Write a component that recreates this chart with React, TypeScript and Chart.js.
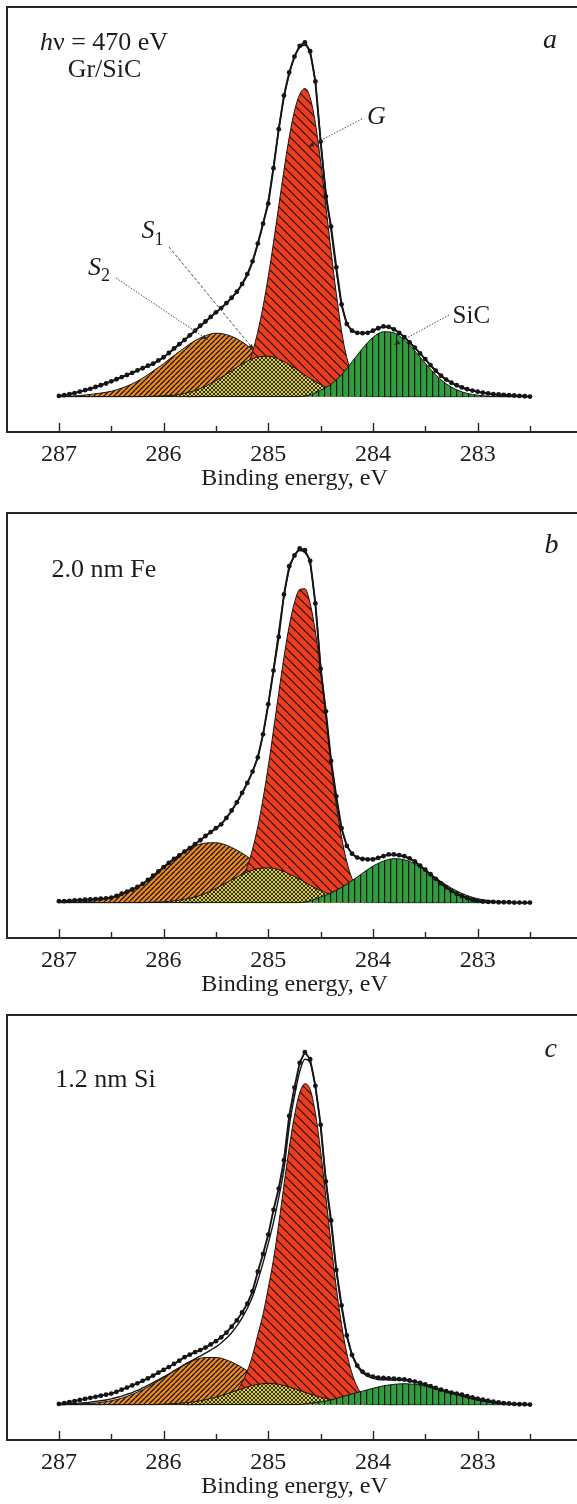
import React, { useEffect, useRef } from "react";
import { Chart, registerables } from "chart.js";

Chart.register(...registerables);

// ---------- energies (eV) ----------
const ENERGY_DATA = [
  287.0, 286.95, 286.9, 286.85, 286.8, 286.75, 286.7, 286.65, 286.6, 286.55,
  286.5, 286.45, 286.4, 286.35, 286.3, 286.25, 286.2, 286.15, 286.1, 286.05,
  286.0, 285.95, 285.9, 285.85, 285.8, 285.75, 285.7, 285.65, 285.6, 285.55,
  285.5, 285.45, 285.4, 285.35, 285.3, 285.25, 285.2, 285.15, 285.1, 285.05,
  285.0, 284.95, 284.9, 284.85, 284.8, 284.75, 284.7, 284.65, 284.6, 284.55,
  284.5, 284.45, 284.4, 284.35, 284.3, 284.25, 284.2, 284.15, 284.1, 284.05,
  284.0, 283.95, 283.9, 283.85, 283.8, 283.75, 283.7, 283.65, 283.6, 283.55,
  283.5, 283.45, 283.4, 283.35, 283.3, 283.25, 283.2, 283.15, 283.1, 283.05,
  283.0, 282.95, 282.9, 282.85, 282.8, 282.75, 282.7, 282.65, 282.6, 282.55,
  282.5,
];
const ENERGY_COMP = [
  287.0, 286.9, 286.8, 286.7, 286.6, 286.5, 286.4, 286.3, 286.2, 286.1,
  286.0, 285.9, 285.8, 285.7, 285.6, 285.5, 285.4, 285.3, 285.2, 285.1,
  285.0, 284.9, 284.8, 284.7, 284.6, 284.5, 284.4, 284.3, 284.2, 284.1,
  284.0, 283.9, 283.8, 283.7, 283.6, 283.5, 283.4, 283.3, 283.2, 283.1,
  283.0, 282.9, 282.8, 282.7, 282.6, 282.5,
];
const ENERGY_G = [
  285.8, 285.75, 285.7, 285.65, 285.6, 285.55, 285.5, 285.45, 285.4, 285.35,
  285.3, 285.25, 285.2, 285.15, 285.1, 285.05, 285.0, 284.95, 284.9, 284.85,
  284.8, 284.75, 284.7, 284.65, 284.6, 284.55, 284.5, 284.45, 284.4, 284.35,
  284.3, 284.25, 284.2, 284.15, 284.1, 284.05, 284.0, 283.95, 283.9, 283.85,
  283.8,
];

const MAJOR_TICKS = [287, 286, 285, 284, 283];
const MINOR_TICKS = [286.5, 285.5, 284.5, 283.5, 282.5];
const TICK_LABELS = ["287", "286", "285", "284", "283"];
const X_TITLE = "Binding energy, eV";

// ---------- panel a : hν = 470 eV, Gr/SiC ----------
const DATA_A = [
  0.2, 0.4, 0.7, 1.0, 1.4, 1.8, 2.2, 2.7, 3.2, 3.7,
  4.3, 4.9, 5.5, 6.1, 6.7, 7.4, 8.0, 8.7, 9.3, 10.2,
  11.1, 12.3, 13.6, 14.8, 16.0, 17.3, 18.6, 20.0, 21.2, 22.5,
  23.8, 25.0, 26.4, 27.9, 29.6, 31.8, 34.6, 38.2, 43.2, 48.8,
  54.5, 64.5, 75.5, 85.0, 91.5, 96.0, 99.0, 100.0, 97.5, 89.0,
  72.0, 56.5, 48.0, 36.5, 26.0, 20.5, 18.6, 18.0, 17.9, 18.0,
  18.6, 19.3, 19.8, 19.7, 19.0, 18.0, 16.8, 15.3, 13.8, 12.2,
  10.6, 8.9, 7.3, 5.9, 4.8, 3.9, 3.2, 2.6, 2.1, 1.7,
  1.4, 1.1, 0.9, 0.7, 0.6, 0.5, 0.4, 0.3, 0.2, 0.1,
  0.0,
];
const FIT_A = [
  0.1, 0.4, 0.7, 1.0, 1.4, 1.8, 2.2, 2.7, 3.2, 3.7,
  4.2, 4.8, 5.4, 6.0, 6.7, 7.3, 8.0, 8.6, 9.3, 10.1,
  11.0, 12.2, 13.4, 14.7, 16.0, 17.2, 18.5, 19.8, 21.1, 22.4,
  23.7, 25.0, 26.3, 27.8, 29.5, 31.6, 34.3, 38.0, 43.0, 48.8,
  55.5, 65.0, 75.5, 84.5, 91.0, 96.0, 98.6, 99.2, 96.8, 88.5,
  72.5, 58.0, 47.0, 35.5, 26.0, 20.8, 18.6, 18.0, 17.8, 18.0,
  18.5, 19.2, 19.6, 19.6, 19.0, 18.0, 16.8, 15.4, 13.8, 12.2,
  10.5, 8.8, 7.3, 5.9, 4.8, 3.9, 3.1, 2.5, 2.0, 1.6,
  1.3, 1.0, 0.8, 0.6, 0.5, 0.4, 0.3, 0.2, 0.1, 0.1,
  0.0,
];
const S2_A = [
  0, 0.1, 0.3, 0.6, 1.0, 1.5, 2.4, 3.6, 5.2, 7.2,
  9.3, 11.6, 13.8, 15.8, 17.2, 17.9, 17.5, 16.3, 14.4, 12.0,
  9.5, 7.1, 5.0, 3.3, 2.1, 1.2, 0.7, 0.3, 0.1, 0,
  0, 0, 0, 0, 0, 0, 0, 0, 0, 0,
  0, 0, 0, 0, 0, 0,
];
const S1_A = [
  0, 0, 0, 0, 0, 0, 0, 0, 0, 0.1,
  0.2, 0.4, 0.9, 1.7, 2.9, 4.5, 6.3, 8.3, 10.0, 11.2,
  11.4, 10.6, 9.0, 7.1, 5.1, 3.4, 2.0, 1.1, 0.5, 0.2,
  0.1, 0, 0, 0, 0, 0, 0, 0, 0, 0,
  0, 0, 0, 0, 0, 0,
];
const G_A = [
  0, 0, 0, 0, 0.1, 0.2, 0.3, 0.6, 1.1, 2.0,
  3.4, 5.4, 8.5, 12.7, 18.3, 25.4, 33.9, 43.5, 53.8, 63.9,
  73.2, 80.6, 85.3, 87.0, 84.4, 77.2, 66.4, 53.8, 41.0, 29.0,
  18.5, 11.0, 6.5, 3.6, 1.9, 0.9, 0.4, 0.2, 0.1, 0,
  0,
];
const SIC_A = [
  0, 0, 0, 0, 0, 0, 0, 0, 0, 0,
  0, 0, 0, 0, 0, 0, 0, 0, 0, 0,
  0, 0, 0, 0, 0.5, 1.8, 3.5, 6.2, 9.8, 13.6,
  16.7, 18.3, 18.0, 16.0, 12.9, 9.4, 6.1, 3.6, 1.9, 0.9,
  0.4, 0.1, 0, 0, 0, 0,
];

// ---------- panel b : 2.0 nm Fe ----------
const DATA_B = [
  0.4, 0.4, 0.5, 0.6, 0.7, 0.8, 0.9, 1.0, 1.1, 1.2,
  1.4, 1.9, 2.5, 3.1, 3.7, 4.4, 5.3, 6.4, 7.6, 8.8,
  10.0, 11.2, 12.3, 13.3, 14.4, 15.4, 16.5, 17.6, 18.8, 19.9,
  21.0, 22.1, 23.9, 26.0, 28.3, 31.0, 33.8, 37.0, 41.0, 47.5,
  56.0, 65.5, 75.0, 87.0, 95.0, 98.0, 100.0, 99.5, 96.5, 84.5,
  66.0, 54.0, 40.0, 30.0, 21.0, 16.0, 13.8, 12.7, 12.3, 12.2,
  12.2, 12.6, 13.1, 13.6, 13.6, 13.4, 13.1, 12.5, 11.6, 10.4,
  9.3, 8.0, 6.7, 5.4, 4.3, 3.3, 2.5, 1.8, 1.3, 0.8,
  0.5, 0.3, 0.2, 0.2, 0.1, 0.1, 0.1, 0.0, 0.0, 0.0,
  0.0,
];
const FIT_B = [
  0.3, 0.4, 0.5, 0.6, 0.7, 0.8, 0.9, 1.0, 1.1, 1.2,
  1.5, 1.9, 2.5, 3.1, 3.7, 4.4, 5.3, 6.3, 7.5, 8.7,
  9.9, 11.1, 12.2, 13.3, 14.3, 15.4, 16.5, 17.6, 18.7, 19.8,
  20.9, 22.2, 23.9, 25.9, 28.2, 30.8, 33.7, 37.0, 41.2, 47.5,
  56.0, 66.0, 76.5, 86.5, 94.0, 98.0, 99.4, 98.8, 95.5, 84.0,
  67.0, 53.5, 40.0, 29.5, 21.0, 16.2, 13.8, 12.7, 12.3, 12.2,
  12.3, 12.6, 13.1, 13.4, 13.5, 13.3, 12.9, 12.3, 11.5, 10.4,
  9.2, 7.9, 6.6, 5.4, 4.3, 3.3, 2.5, 1.8, 1.3, 0.9,
  0.6, 0.4, 0.3, 0.2, 0.1, 0.1, 0.1, 0.0, 0.0, 0.0,
  0.0,
];
const S2_B = [
  0, 0.1, 0.2, 0.4, 0.8, 1.4, 2.3, 3.6, 5.3, 7.4,
  10.2, 12.5, 14.4, 16.0, 16.8, 16.9, 16.2, 14.8, 13.0, 10.8,
  8.3, 6.0, 4.1, 2.6, 1.6, 0.9, 0.5, 0.2, 0.1, 0,
  0, 0, 0, 0, 0, 0, 0, 0, 0, 0,
  0, 0, 0, 0, 0, 0,
];
const S1_B = [
  0, 0, 0, 0, 0, 0, 0, 0, 0, 0.1,
  0.2, 0.5, 0.9, 1.6, 2.6, 4.0, 5.6, 7.2, 8.6, 9.6,
  9.8, 9.3, 8.1, 6.6, 4.9, 3.4, 2.2, 1.3, 0.7, 0.4,
  0.2, 0.1, 0, 0, 0, 0, 0, 0, 0, 0,
  0, 0, 0, 0, 0, 0,
];
const G_B = [
  0, 0, 0, 0, 0.15, 0.3, 0.5, 0.9, 1.5, 2.5,
  4.2, 6.7, 10.2, 15.1, 21.4, 29.3, 38.5, 48.7, 59.2, 69.3,
  78.1, 84.7, 88.4, 88.6, 84.5, 76.4, 65.4, 53.1, 39.0, 27.5,
  18.5, 11.5, 6.8, 3.8, 2.0, 1.0, 0.5, 0.2, 0.1, 0,
  0,
];
const SIC_B = [
  0, 0, 0, 0, 0, 0, 0, 0, 0, 0,
  0, 0, 0, 0, 0, 0, 0, 0, 0, 0,
  0, 0, 0, 0, 0.5, 1.6, 2.7, 4.3, 6.2, 8.3,
  10.3, 11.7, 12.4, 12.1, 10.9, 9.1, 7.0, 5.0, 3.3, 2.0,
  1.1, 0.6, 0.3, 0.1, 0, 0,
];

// ---------- panel c : 1.2 nm Si ----------
const DATA_C = [
  0.2, 0.4, 0.7, 1.0, 1.3, 1.6, 1.9, 2.2, 2.5, 2.8,
  3.1, 3.6, 4.2, 4.8, 5.4, 6.0, 6.7, 7.4, 8.2, 9.0,
  9.8, 10.6, 11.5, 12.4, 13.4, 14.1, 14.8, 15.4, 16.1, 17.0,
  17.9, 19.0, 20.3, 22.0, 23.8, 26.0, 28.5, 32.0, 37.5, 42.5,
  48.0, 55.0, 61.0, 69.0, 81.5, 89.5, 96.5, 99.5, 97.5, 90.0,
  79.0, 63.0, 52.0, 38.0, 28.0, 19.5, 14.0, 11.0, 9.3, 8.4,
  7.9, 7.6, 7.5, 7.4, 7.3, 7.2, 7.1, 6.8, 6.5, 6.1,
  5.7, 5.2, 4.7, 4.2, 3.8, 3.4, 3.1, 2.8, 2.4, 2.0,
  1.7, 1.4, 1.1, 0.8, 0.6, 0.4, 0.3, 0.2, 0.1, 0.1,
  0.0,
];
const FIT_C = [
  0.0, 0.1, 0.2, 0.3, 0.4, 0.5, 0.7, 0.9, 1.1, 1.3,
  1.6, 2.0, 2.4, 2.9, 3.4, 4.0, 4.7, 5.4, 6.2, 7.0,
  7.8, 8.6, 9.5, 10.4, 11.3, 12.1, 12.9, 13.7, 14.5, 15.4,
  16.3, 17.4, 18.7, 20.3, 22.2, 24.5, 27.2, 30.5, 35.0, 40.0,
  45.5, 51.5, 58.5, 66.5, 78.5, 87.0, 94.0, 97.5, 96.5, 89.5,
  78.5, 63.5, 51.0, 38.0, 27.5, 19.5, 14.0, 10.8, 9.0, 8.0,
  7.4, 7.1, 7.0, 7.0, 6.9, 6.9, 6.8, 6.6, 6.3, 6.0,
  5.6, 5.1, 4.6, 4.1, 3.6, 3.2, 2.8, 2.4, 2.0, 1.7,
  1.3, 1.0, 0.8, 0.6, 0.4, 0.3, 0.2, 0.1, 0.1, 0.0,
  0.0,
];
const S2_C = [
  0, 0.1, 0.2, 0.3, 0.6, 1.1, 1.8, 2.9, 4.2, 5.8,
  7.6, 9.5, 11.3, 12.6, 13.3, 13.3, 12.6, 11.3, 9.5, 7.6,
  5.8, 4.2, 2.9, 1.8, 1.1, 0.6, 0.3, 0.2, 0.1, 0,
  0, 0, 0, 0, 0, 0, 0, 0, 0, 0,
  0, 0, 0, 0, 0, 0,
];
const S1_C = [
  0, 0, 0, 0, 0, 0, 0, 0, 0, 0,
  0.1, 0.3, 0.5, 0.8, 1.4, 2.1, 3.0, 4.0, 5.0, 5.7,
  6.0, 5.7, 5.0, 4.0, 3.0, 2.1, 1.4, 0.8, 0.5, 0.3,
  0.1, 0, 0, 0, 0, 0, 0, 0, 0, 0,
  0, 0, 0, 0, 0, 0,
];
const G_C = [
  0, 0, 0, 0, 0.1, 0.2, 0.4, 0.8, 1.4, 2.4,
  3.9, 6.2, 9.5, 13.9, 19.7, 25.5, 33.0, 41.0, 51.0, 62.0,
  72.5, 81.5, 88.0, 90.6, 89.0, 82.3, 71.6, 58.7, 45.4, 33.0,
  22.6, 14.5, 8.8, 5.0, 2.7, 1.4, 0.6, 0.3, 0.1, 0,
  0,
];
const SIC_C = [
  0, 0, 0, 0, 0, 0, 0, 0, 0, 0,
  0, 0, 0, 0, 0, 0, 0, 0, 0, 0,
  0, 0, 0, 0, 0.4, 0.8, 1.3, 2.2, 3.0, 3.8,
  4.6, 5.3, 5.7, 5.9, 5.7, 5.3, 4.6, 3.8, 3.0, 2.2,
  1.5, 0.8, 0.4, 0.2, 0.1, 0,
];

// ---------- styling ----------
const SERIF = '"Liberation Serif", "Times New Roman", serif';
const INK = "#1c1c1c";

type Part = { t: string; it?: boolean; size: number; dy?: number };
type Label = { parts: Part[]; x: number; y: number; align?: "left" | "center" };
type Leader = { from: [number, number]; to: [number, number]; dash: number[] };

const PANEL_A = {
  data: DATA_A, fit: FIT_A, s2: S2_A, s1: S1_A, g: G_A, sic: SIC_A,
  labels: [
    { parts: [{ t: "h", it: true, size: 26 }, { t: "\u03BD = 470 eV", size: 26 }], x: 104, y: 50, align: "center" },
    { parts: [{ t: "Gr/SiC", size: 26 }], x: 104.5, y: 77, align: "center" },
    { parts: [{ t: "a", it: true, size: 28 }], x: 543, y: 48 },
    { parts: [{ t: "G", it: true, size: 26 }], x: 367, y: 124 },
    { parts: [{ t: "S", it: true, size: 26 }, { t: "1", size: 18, dy: 7 }], x: 141.5, y: 238 },
    { parts: [{ t: "S", it: true, size: 26 }, { t: "2", size: 18, dy: 6 }], x: 88, y: 275 },
    { parts: [{ t: "SiC", size: 25 }], x: 452.6, y: 323 },
  ] as Label[],
  leaders: [
    { from: [362, 119], to: [308, 147], dash: [1.5, 1.5] },
    { from: [169, 247], to: [254, 350], dash: [3, 2] },
    { from: [116, 278], to: [208, 340], dash: [1.5, 1.5] },
    { from: [449, 315], to: [394, 345], dash: [1.5, 1.5] },
  ] as Leader[],
};
const PANEL_B = {
  data: DATA_B, fit: FIT_B, s2: S2_B, s1: S1_B, g: G_B, sic: SIC_B,
  labels: [
    { parts: [{ t: "2.0 nm Fe", size: 26 }], x: 51.5, y: 71.3 },
    { parts: [{ t: "b", it: true, size: 28 }], x: 544.6, y: 47.3 },
  ] as Label[],
  leaders: [] as Leader[],
};
const PANEL_C = {
  data: DATA_C, fit: FIT_C, s2: S2_C, s1: S1_C, g: G_C, sic: SIC_C,
  labels: [
    { parts: [{ t: "1.2 nm Si", size: 26 }], x: 55.2, y: 79.3 },
    { parts: [{ t: "c", it: true, size: 28 }], x: 544.6, y: 49.3 },
  ] as Label[],
  leaders: [] as Leader[],
};

function makeTile(size: number, base: string, draw: (g: CanvasRenderingContext2D, s: number) => void) {
  const c = document.createElement("canvas");
  c.width = size;
  c.height = size;
  const g = c.getContext("2d")!;
  g.fillStyle = base;
  g.fillRect(0, 0, size, size);
  g.strokeStyle = "#141414";
  draw(g, size);
  return g.createPattern(c, "repeat")!;
}
const fwd = (g: CanvasRenderingContext2D, s: number) => {
  g.beginPath();
  for (const k of [-s, 0, s]) {
    g.moveTo(k, s);
    g.lineTo(k + s, 0);
  }
  g.stroke();
};
const back = (g: CanvasRenderingContext2D, s: number) => {
  g.beginPath();
  for (const k of [-s, 0, s]) {
    g.moveTo(k, 0);
    g.lineTo(k + s, s);
  }
  g.stroke();
};

function fontStr(p: Part) {
  return `${p.it ? "italic " : ""}${p.size}px ${SERIF}`;
}

function drawLabel(ctx: CanvasRenderingContext2D, l: Label) {
  const widths = l.parts.map((p) => {
    ctx.font = fontStr(p);
    return ctx.measureText(p.t).width;
  });
  const total = widths.reduce((a, b) => a + b, 0);
  let cx = l.align === "center" ? l.x - total / 2 : l.x;
  l.parts.forEach((p, i) => {
    ctx.font = fontStr(p);
    ctx.fillText(p.t, cx, l.y + (p.dy || 0));
    cx += widths[i];
  });
}

function decorPlugin(panel: typeof PANEL_A) {
  return {
    id: "decor",
    afterDraw(chart: any) {
      const { ctx, chartArea: ca, scales } = chart;
      const xs = scales.x;
      ctx.save();
      // frame
      ctx.strokeStyle = "#262626";
      ctx.lineWidth = 2;
      ctx.setLineDash([]);
      ctx.beginPath();
      ctx.moveTo(ca.right + 20, ca.top);
      ctx.lineTo(ca.left, ca.top);
      ctx.lineTo(ca.left, ca.bottom);
      ctx.lineTo(ca.right + 20, ca.bottom);
      ctx.stroke();
      // inward ticks
      ctx.lineWidth = 1.4;
      ctx.beginPath();
      for (const v of MAJOR_TICKS) {
        const px = Math.round(xs.getPixelForValue(v)) + 0.5;
        ctx.moveTo(px, ca.bottom);
        ctx.lineTo(px, ca.bottom - 9);
      }
      for (const v of MINOR_TICKS) {
        const px = Math.round(xs.getPixelForValue(v)) + 0.5;
        ctx.moveTo(px, ca.bottom);
        ctx.lineTo(px, ca.bottom - 6);
      }
      ctx.stroke();
      // leaders
      for (const ld of panel.leaders) {
        const [x1, y1] = ld.from;
        const [x2, y2] = ld.to;
        ctx.strokeStyle = "#4a4a4a";
        ctx.lineWidth = 1;
        ctx.setLineDash(ld.dash);
        ctx.beginPath();
        ctx.moveTo(x1, y1);
        ctx.lineTo(x2, y2);
        ctx.stroke();
        ctx.setLineDash([]);
        const ang = Math.atan2(y2 - y1, x2 - x1);
        const L = 6;
        const W = 2.2;
        ctx.fillStyle = "#2a2a2a";
        ctx.beginPath();
        ctx.moveTo(x2, y2);
        ctx.lineTo(x2 - L * Math.cos(ang) + W * Math.sin(ang), y2 - L * Math.sin(ang) - W * Math.cos(ang));
        ctx.lineTo(x2 - L * Math.cos(ang) - W * Math.sin(ang), y2 - L * Math.sin(ang) + W * Math.cos(ang));
        ctx.closePath();
        ctx.fill();
      }
      // text
      ctx.fillStyle = INK;
      ctx.textAlign = "left";
      ctx.textBaseline = "alphabetic";
      for (const l of panel.labels) drawLabel(ctx, l);
      ctx.restore();
    },
  };
}

function buildChart(canvas: HTMLCanvasElement, panel: typeof PANEL_A) {
  const patS2 = makeTile(5, "#f28a22", (g, s) => {
    g.lineWidth = 1.3;
    fwd(g, s);
  });
  const patG = makeTile(9, "#ee3c1f", (g, s) => {
    g.lineWidth = 1.2;
    back(g, s);
  });
  const patS1 = makeTile(4, "#ddd043", (g, s) => {
    g.lineWidth = 1.0;
    g.strokeStyle = "#2e2d0c";
    fwd(g, s);
    back(g, s);
  });
  const patSiC = makeTile(6, "#2f9d3c", (g, s) => {
    g.lineWidth = 1.2;
    g.beginPath();
    g.moveTo(0.6, -1);
    g.lineTo(0.6, s + 1);
    g.stroke();
  });

  const pts = (xs: number[], ys: number[]) => xs.map((x, i) => ({ x, y: ys[i] }));
  const comp = (label: string, xs: number[], ys: number[], bg: any, order: number) => ({
    label,
    data: pts(xs, ys),
    backgroundColor: bg,
    borderColor: "#151515",
    borderWidth: 1,
    fill: "origin",
    pointRadius: 0,
    cubicInterpolationMode: "monotone",
    order,
  });

  return new Chart(canvas, {
    type: "line",
    data: {
      datasets: [
        {
          label: "data",
          data: pts(ENERGY_DATA, panel.data),
          showLine: true,
          borderColor: "#151515",
          borderWidth: 1.9,
          pointRadius: 2.4,
          pointBackgroundColor: "#151515",
          pointBorderWidth: 0,
          fill: false,
          order: 0,
        },
        {
          label: "fit",
          data: pts(ENERGY_DATA, panel.fit),
          borderColor: "#151515",
          borderWidth: 1.4,
          pointRadius: 0,
          fill: false,
          cubicInterpolationMode: "monotone",
          order: 1,
        },
        comp("SiC", ENERGY_COMP, panel.sic, patSiC, 2),
        comp("S1", ENERGY_COMP, panel.s1, patS1, 3),
        comp("G", ENERGY_G, panel.g, patG, 4),
        comp("S2", ENERGY_COMP, panel.s2, patS2, 5),
      ] as any,
    },
    options: {
      animation: false,
      responsive: false,
      devicePixelRatio: 1,
      events: [],
      layout: { padding: { left: 7, right: 8, top: 7, bottom: 2 } },
      plugins: {
        legend: { display: false },
        tooltip: { enabled: false },
        title: { display: false },
      },
      scales: {
        x: {
          type: "linear",
          reverse: true,
          min: 282.003,
          max: 287.496,
          grid: { display: false, drawTicks: false },
          border: { display: false },
          ticks: {
            stepSize: 1,
            autoSkip: false,
            includeBounds: false,
            maxRotation: 0,
            padding: 8,
            color: INK,
            font: { family: SERIF, size: 24 },
            callback: (v: any) => (TICK_LABELS.includes(String(v)) ? String(v) : ""),
          },
          title: {
            display: true,
            text: X_TITLE,
            color: INK,
            font: { family: SERIF, size: 24 },
            padding: { top: 0, bottom: 5 },
          },
          afterFit: (s: any) => {
            s.height = 66;
          },
        },
        y: { display: false, min: -10, max: 110 },
      },
    } as any,
    plugins: [decorPlugin(panel)],
  });
}

function Panel({ panel, top }: { panel: typeof PANEL_A; top: number }) {
  const ref = useRef<HTMLCanvasElement>(null);
  useEffect(() => {
    const chart = buildChart(ref.current!, panel);
    return () => chart.destroy();
  }, [panel]);
  return (
    <div style={{ position: "absolute", left: 0, top, width: 590, height: 500 }}>
      <canvas ref={ref} width={590} height={500} style={{ display: "block", width: 590, height: 500 }} />
    </div>
  );
}

export default function App() {
  return (
    <div
      style={{
        position: "absolute",
        left: 0,
        top: 0,
        width: 577,
        height: 1504,
        overflow: "hidden",
        background: "#ffffff",
      }}
    >
      <Panel panel={PANEL_A} top={0} />
      <Panel panel={PANEL_B} top={506} />
      <Panel panel={PANEL_C} top={1008} />
    </div>
  );
}
